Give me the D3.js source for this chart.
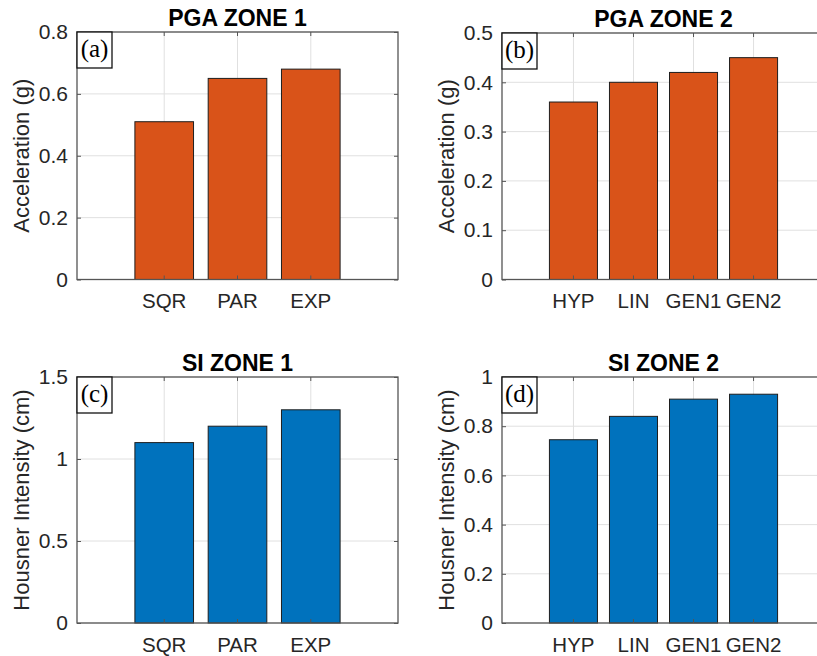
<!DOCTYPE html>
<html>
<head>
<meta charset="utf-8">
<script src="https://cdn.jsdelivr.net/npm/d3@7"></script>
<style>
  body { margin: 0; background: #fff; }
  svg { display: block; }
</style>
</head>
<body>
<script>
// data
var zone1Cats = ["SQR", "PAR", "EXP"];
var zone2Cats = ["HYP", "LIN", "GEN1", "GEN2"];

var pgaZone1 = [0.51, 0.65, 0.68];
var pgaZone2 = [0.36, 0.40, 0.42, 0.45];
var siZone1 = [1.10, 1.20, 1.30];
var siZone2 = [0.745, 0.84, 0.91, 0.93];

var pga1Ticks = [0, 0.2, 0.4, 0.6, 0.8];
var pga2Ticks = [0, 0.1, 0.2, 0.3, 0.4, 0.5];
var si1Ticks = [0, 0.5, 1, 1.5];
var si2Ticks = [0, 0.2, 0.4, 0.6, 0.8, 1];

var orange = "#D95319";
var blue = "#0072BD";

var sans = "'Liberation Sans', Arial, Helvetica, sans-serif";
var serif = "'Liberation Serif', 'Times New Roman', serif";

var width = 817, height = 656;

var svg = d3.select("body").append("svg")
    .attr("width", width)
    .attr("height", height)
    .style("font-family", sans);

var panels = [
    {cats: zone1Cats, vals: pgaZone1, ticks: pga1Ticks, title: "PGA ZONE 1", ylabel: "Acceleration (g)",
     tag: "(a)", color: orange, left: 77, top: 32, w: 321, h: 247.5},
    {cats: zone2Cats, vals: pgaZone2, ticks: pga2Ticks, title: "PGA ZONE 2", ylabel: "Acceleration (g)",
     tag: "(b)", color: orange, left: 502, top: 33, w: 323, h: 246.5},
    {cats: zone1Cats, vals: siZone1, ticks: si1Ticks, title: "SI ZONE 1", ylabel: "Housner Intensity (cm)",
     tag: "(c)", color: blue, left: 77, top: 377, w: 321, h: 246},
    {cats: zone2Cats, vals: siZone2, ticks: si2Ticks, title: "SI ZONE 2", ylabel: "Housner Intensity (cm)",
     tag: "(d)", color: blue, left: 502, top: 377, w: 323, h: 246}
];

panels.forEach(drawPanel);

function drawPanel(p) {
    var g = svg.append("g")
        .attr("transform", "translate(" + p.left + "," + p.top + ")");

    var x = d3.scaleBand()
        .domain(p.cats)
        .range([0, p.w])
        .paddingInner(0.2)
        .paddingOuter(0.79);

    var y = d3.scaleLinear()
        .domain([0, d3.max(p.ticks)])
        .range([p.h, 0]);

    var mid = function(d) { return x(d) + x.bandwidth() / 2; };

    // grid
    g.selectAll(".hgrid")
        .data(p.ticks)
        .enter().append("line")
            .attr("x1", 0).attr("x2", p.w)
            .attr("y1", y).attr("y2", y)
            .attr("stroke", "#e0e0e0")
            .attr("stroke-width", 1);

    g.selectAll(".vgrid")
        .data(p.cats)
        .enter().append("line")
            .attr("x1", mid).attr("x2", mid)
            .attr("y1", 0).attr("y2", p.h)
            .attr("stroke", "#e0e0e0")
            .attr("stroke-width", 1);

    // bars
    g.selectAll("rect.bar")
        .data(p.vals)
        .enter().append("rect")
            .attr("class", "bar")
            .attr("x", function(d, i) { return x(p.cats[i]); })
            .attr("y", function(d) { return y(d); })
            .attr("width", x.bandwidth())
            .attr("height", function(d) { return p.h - y(d); })
            .attr("fill", p.color)
            .attr("stroke", "#1e1e1e")
            .attr("stroke-width", 1);

    // axes (ticks point inward, like matlab)
    var yAxis = d3.axisLeft(y).tickValues(p.ticks).tickSize(-4).tickPadding(9)
        .tickFormat(function(d) { return String(d); });
    var yAxisR = d3.axisRight(y).tickValues(p.ticks).tickSize(-4).tickFormat("");
    var xAxis = d3.axisBottom(x).tickSize(-4).tickPadding(14);
    var xAxisT = d3.axisTop(x).tickSize(-4).tickFormat("");

    var ya = g.append("g").call(yAxis);
    g.append("g").attr("transform", "translate(" + p.w + ",0)").call(yAxisR);
    var xa = g.append("g").attr("transform", "translate(0," + p.h + ")").call(xAxis);
    g.append("g").call(xAxisT);

    g.selectAll(".domain").remove();
    g.selectAll(".tick line").attr("stroke", "#555").attr("stroke-width", 1);
    ya.selectAll("text").attr("font-size", 21).attr("font-family", sans).attr("fill", "#262626");
    xa.selectAll("text").attr("font-size", 20.5).attr("font-family", sans).attr("fill", "#262626");

    // box
    g.append("rect")
        .attr("x", 0).attr("y", 0)
        .attr("width", p.w).attr("height", p.h)
        .attr("fill", "none")
        .attr("stroke", "#555")
        .attr("stroke-width", 1.3);

    // title
    g.append("text")
        .text(p.title)
        .attr("x", p.w / 2)
        .attr("y", -6)
        .attr("text-anchor", "middle")
        .attr("font-size", 23)
        .attr("font-weight", "bold")
        .attr("fill", "#000");

    // y label
    g.append("text")
        .text(p.ylabel)
        .attr("transform", "translate(-48," + (p.h / 2) + ") rotate(-90)")
        .attr("text-anchor", "middle")
        .attr("font-size", 22)
        .attr("fill", "#262626");

    // panel tag
    g.append("rect")
        .attr("x", 0).attr("y", 0)
        .attr("width", 35).attr("height", 36)
        .attr("fill", "#fff")
        .attr("stroke", "#111")
        .attr("stroke-width", 1.3);

    g.append("text")
        .text(p.tag)
        .attr("x", 17.5)
        .attr("y", 25)
        .attr("text-anchor", "middle")
        .style("font-family", serif)
        .attr("font-size", 25)
        .attr("fill", "#000");
}
</script>
</body>
</html>
